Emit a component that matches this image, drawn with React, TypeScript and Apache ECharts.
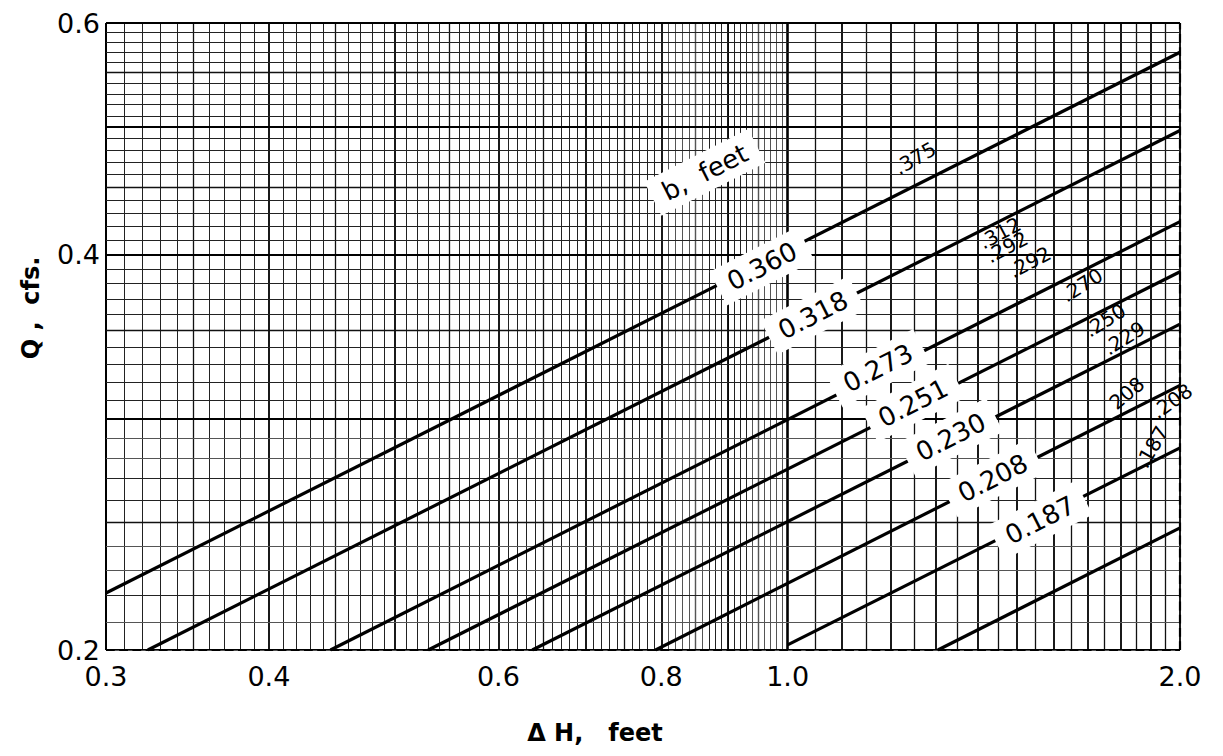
import React, { useEffect, useRef } from "react";
import * as echarts from "echarts";

// Axis ticks
const xTickValues = [0.3, 0.4, 0.6, 0.8, 1.0, 2.0];
const yTickValues = [0.2, 0.4, 0.6];

// Rating lines (ΔH, Q) end points
const lineStarts = [
  [0.3, 0.221],
  [0.323, 0.2],
  [0.446, 0.2],
  [0.53, 0.2],
  [0.637, 0.2],
  [0.792, 0.2],
  [1.0, 0.2018],
  [1.304, 0.2],
];
const lineEnds = [
  [2.0, 0.57],
  [2.0, 0.497],
  [2.0, 0.4236],
  [2.0, 0.388],
  [2.0, 0.354],
  [2.0, 0.318],
  [2.0, 0.285],
  [2.0, 0.2477],
];

// "b, feet" labels placed on the lines
const bLabelTexts = ["b,  feet", "0.360", "0.318", "0.273", "0.251", "0.230", "0.208", "0.187"];
const bLabelDH = [0.864, 0.956, 1.046, 1.173, 1.248, 1.334, 1.437, 1.562];
const bLabelQ = [0.4619, 0.3918, 0.3596, 0.3277, 0.3083, 0.2904, 0.2703, 0.2511];

// small observed-value labels at the right
const sideTexts = [".375", ".312", ".292", ".292", ".270", ".250", ".229", "208", ".208", ".187"];
const sideDH = [1.2525, 1.455, 1.473, 1.534, 1.682, 1.752, 1.812, 1.821, 1.972, 1.9035];
const sideQ = [0.4734, 0.4152, 0.4051, 0.3946, 0.379, 0.3564, 0.3454, 0.3137, 0.3093, 0.2854];
const sideRot = [30, 28, 28, 28, 32, 32, 32, 40, 35, 60];

const FONT = "DejaVu Sans";

function isMult(v: number, step: number) {
  const r = v / step;
  return Math.abs(r - Math.round(r)) < 1e-6;
}

export default function App() {
  const ref = useRef<HTMLDivElement>(null);
  useEffect(() => {
    const chart = echarts.init(ref.current!, null, { renderer: "svg" });

    // paper rulings
    const vVals: number[] = [];
    for (let i = 30; i <= 80; i++) vVals.push(i / 100);
    for (let i = 161; i <= 200; i++) vVals.push(i / 200);
    for (let i = 21; i <= 40; i++) vVals.push(i / 20);
    const hVals: number[] = [];
    for (let i = 40; i <= 60; i++) hVals.push(i / 200);
    for (let i = 31; i <= 60; i++) hVals.push(i / 100);

    const styleFor = (v: number, isX: boolean) => {
      if (isX && Math.abs(v - 1) < 1e-6) return { color: "#000", width: 2.6, type: "solid" };
      if (v === 0.3 && isX) return { color: "#000", width: 2, type: "solid" };
      if (isMult(v, 0.1)) return { color: "#000", width: 1.8, type: "solid" };
      if (isMult(v, 0.05)) return { color: "#111", width: 1.3, type: "solid" };
      if (isMult(v, 0.01)) return { color: "#222", width: 1, type: "solid" };
      return { color: "#555", width: 1, type: "solid" };
    };

    const markData: any[] = [];
    vVals.forEach((v) => markData.push({ xAxis: v, lineStyle: styleFor(v, true) }));
    hVals.forEach((v) => markData.push({ yAxis: v, lineStyle: styleFor(v, false) }));
    markData.push({ xAxis: 2.0, lineStyle: { color: "#000", width: 2.2 } });
    markData.push({ yAxis: 0.6, lineStyle: { color: "#000", width: 2.2 } });
    markData.push({ yAxis: 0.2, lineStyle: { color: "#000", width: 2.2 } });

    const series: any[] = [
      {
        type: "line",
        name: "grid",
        data: [[0.3, 0.2]],
        showSymbol: false,
        symbol: "none",
        lineStyle: { width: 0 },
        z: 1,
        silent: true,
        markLine: {
          silent: true,
          symbol: ["none", "none"],
          label: { show: false },
          emphasis: { disabled: true },
          animation: false,
          data: markData,
        },
      },
    ];
    lineStarts.forEach((s, i) => {
      series.push({
        type: "line",
        data: [s, lineEnds[i]],
        showSymbol: false,
        symbol: "none",
        lineStyle: { color: "#000", width: 3.2 },
        z: 5,
        silent: true,
      });
    });
    series.push({
      type: "scatter",
      z: 10,
      symbolSize: 1,
      itemStyle: { color: "rgba(0,0,0,0)", opacity: 1 },
      emphasis: { disabled: true },
      silent: true,
      label: {
        show: true,
        position: "inside",
        fontFamily: FONT,
        fontSize: 26,
        color: "#000",
        opacity: 1,
        backgroundColor: "#fff",
        padding: [6, 12],
        rotate: 27,
        formatter: (p: any) => p.data.name,
      },
      data: bLabelTexts.map((t, i) => ({ name: t, value: [bLabelDH[i], bLabelQ[i]] })),
    });
    series.push({
      type: "scatter",
      z: 10,
      symbolSize: 1,
      itemStyle: { color: "rgba(0,0,0,0)", opacity: 1 },
      emphasis: { disabled: true },
      silent: true,
      label: {
        show: true,
        position: "inside",
        fontFamily: FONT,
        fontSize: 20,
        color: "#000",
        opacity: 1,
        formatter: (p: any) => p.data.name,
      },
      data: sideTexts.map((t, i) => ({
        name: t,
        value: [sideDH[i], sideQ[i]],
        label: { rotate: sideRot[i] },
      })),
    });

    chart.setOption({
      animation: false,
      backgroundColor: "#fff",
      grid: { left: 106, right: 43, top: 23, bottom: 106 },
      xAxis: {
        type: "log",
        logBase: 10,
        min: 0.3,
        max: 2.0,
        axisLine: { show: false },
        axisTick: { show: false },
        splitLine: { show: false },
        minorSplitLine: { show: false },
        axisLabel: {
          customValues: xTickValues,
          formatter: (v: number) => v.toFixed(1),
          fontFamily: FONT,
          fontSize: 27,
          color: "#000",
          margin: 13,
          showMinLabel: true,
          showMaxLabel: true,
        },
      },
      yAxis: {
        type: "log",
        logBase: 10,
        min: 0.2,
        max: 0.6,
        axisLine: { show: false },
        axisTick: { show: false },
        splitLine: { show: false },
        axisLabel: {
          customValues: yTickValues,
          formatter: (v: number) => v.toFixed(1),
          fontFamily: FONT,
          fontSize: 27,
          color: "#000",
          margin: 6,
          showMinLabel: true,
          showMaxLabel: true,
        },
      },
      graphic: [
        {
          type: "text",
          x: 595,
          y: 733,
          style: {
            text: "Δ H,   feet",
            font: `bold 24px "${FONT}"`,
            fill: "#000",
            align: "center",
            verticalAlign: "middle",
          },
        },
        {
          type: "text",
          x: 31,
          y: 308,
          rotation: Math.PI / 2,
          style: {
            text: "Q ,  cfs.",
            font: `bold 24px "${FONT}"`,
            fill: "#000",
            align: "center",
            verticalAlign: "middle",
          },
        },
      ],
      series,
    });
    return () => chart.dispose();
  }, []);
  return (
    <div
      ref={ref}
      style={{ position: "fixed", left: 0, top: 0, width: 1223, height: 756, background: "#fff" }}
    />
  );
}
